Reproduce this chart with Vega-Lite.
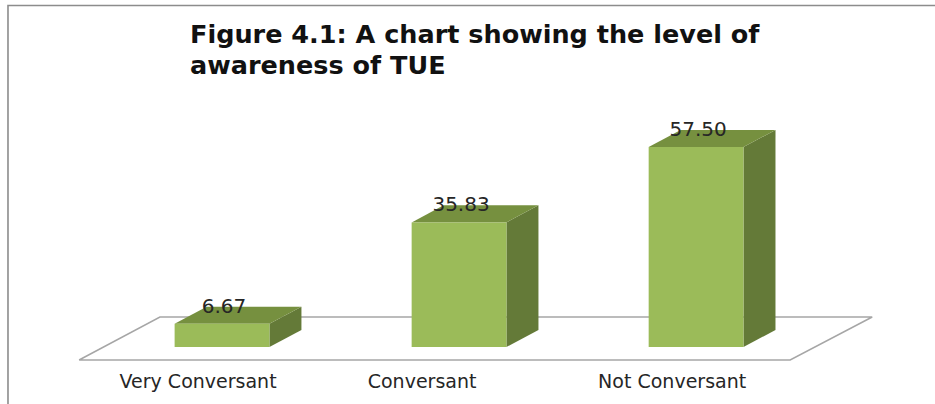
{
  "$schema": "https://vega.github.io/schema/vega-lite/v6.json",
  "autosize": "none",
  "padding": 0,
  "width": 935,
  "height": 404,
  "background": "white",
  "view": {"stroke": null},
  "datasets": {
    "levels": [
      {"level": "Very Conversant", "position": 0, "percent": 6.67},
      {"level": "Conversant", "position": 1, "percent": 35.83},
      {"level": "Not Conversant", "position": 2, "percent": 57.5}
    ],
    "categoryLabels": [
      {"level": "Very Conversant", "position": -0.101, "percent": -10.1},
      {"level": "Conversant", "position": 0.844, "percent": -10.1},
      {"level": "Not Conversant", "position": 1.899, "percent": -10.1}
    ],
    "floor": [
      {"corner": 0, "position": -0.603, "percent": -3.74},
      {"corner": 1, "position": -0.262, "percent": 8.63},
      {"corner": 2, "position": 2.743, "percent": 8.63},
      {"corner": 3, "position": 2.397, "percent": -3.74},
      {"corner": 4, "position": -0.603, "percent": -3.74}
    ],
    "frame": [
      {"corner": 0, "position": -0.903, "percent": -16.39},
      {"corner": 1, "position": -0.903, "percent": 98.2},
      {"corner": 2, "position": 3.008, "percent": 98.2}
    ],
    "heading": [
      {"line": "Figure 4.1: A chart showing the level of", "position": -0.135, "percent": 87.4},
      {"line": "awareness of TUE", "position": -0.135, "percent": 78.4}
    ]
  },
  "layer": [
    {
      "data": {"name": "frame"},
      "mark": {"type": "line", "color": "#8c8c8c", "strokeWidth": 1.6},
      "encoding": {
        "x": {"field": "position", "type": "quantitative", "scale": {"domain": [-0.9367, 3.008], "nice": false, "zero": false}, "axis": null},
        "y": {"field": "percent", "type": "quantitative", "scale": {"domain": [-16.39, 99.77], "nice": false, "zero": false}, "axis": null},
        "order": {"field": "corner"}
      }
    },
    {
      "data": {"name": "floor"},
      "mark": {"type": "line", "color": "#a6a6a6", "strokeWidth": 1.5},
      "encoding": {
        "x": {"field": "position", "type": "quantitative"},
        "y": {"field": "percent", "type": "quantitative"},
        "order": {"field": "corner"}
      }
    },
    {
      "data": {"name": "levels"},
      "transform": [
        {"calculate": "[0, 1]", "as": "depth"},
        {"flatten": ["depth"]},
        {"calculate": "datum.position + 0.2 + datum.depth * 0.135", "as": "sideX"},
        {"calculate": "datum.percent + datum.depth * 4.89", "as": "sideTop"},
        {"calculate": "datum.depth * 4.89", "as": "sideBase"}
      ],
      "mark": {"type": "area", "color": "#647a38", "opacity": 1},
      "encoding": {
        "x": {"field": "sideX", "type": "quantitative"},
        "y": {"field": "sideTop", "type": "quantitative"},
        "y2": {"field": "sideBase"},
        "detail": {"field": "level"}
      }
    },
    {
      "data": {"name": "levels"},
      "transform": [
        {"calculate": "[0, 1]", "as": "depth"},
        {"flatten": ["depth"]},
        {"calculate": "datum.position - 0.2 + datum.depth * 0.135", "as": "topLeft"},
        {"calculate": "datum.position + 0.2 + datum.depth * 0.135", "as": "topRight"},
        {"calculate": "datum.percent + datum.depth * 4.89", "as": "topY"}
      ],
      "mark": {"type": "area", "orient": "horizontal", "color": "#76903f", "opacity": 1},
      "encoding": {
        "y": {"field": "topY", "type": "quantitative"},
        "x": {"field": "topLeft", "type": "quantitative"},
        "x2": {"field": "topRight"},
        "detail": {"field": "level"}
      }
    },
    {
      "data": {"name": "levels"},
      "transform": [
        {"calculate": "datum.position - 0.2", "as": "frontLeft"},
        {"calculate": "datum.position + 0.2", "as": "frontRight"}
      ],
      "mark": {"type": "rect", "color": "#9bbb59"},
      "encoding": {
        "x": {"field": "frontLeft", "type": "quantitative"},
        "x2": {"field": "frontRight"},
        "y": {"field": "percent", "type": "quantitative"},
        "y2": {"datum": 0}
      }
    },
    {
      "data": {"name": "levels"},
      "mark": {"type": "text", "font": "DejaVu Sans", "fontSize": 20, "color": "#262626", "dy": -17, "dx": 2},
      "encoding": {
        "x": {"field": "position", "type": "quantitative"},
        "y": {"field": "percent", "type": "quantitative"},
        "text": {"field": "percent", "type": "quantitative", "format": ".2f"}
      }
    },
    {
      "data": {"name": "categoryLabels"},
      "mark": {"type": "text", "font": "DejaVu Sans", "fontSize": 19, "color": "#262626"},
      "encoding": {
        "x": {"field": "position", "type": "quantitative"},
        "y": {"field": "percent", "type": "quantitative"},
        "text": {"field": "level", "type": "nominal"}
      }
    },
    {
      "data": {"name": "heading"},
      "mark": {"type": "text", "font": "DejaVu Sans", "fontSize": 25.5, "fontWeight": "bold", "align": "left", "baseline": "alphabetic", "color": "#111111"},
      "encoding": {
        "x": {"field": "position", "type": "quantitative"},
        "y": {"field": "percent", "type": "quantitative"},
        "text": {"field": "line", "type": "nominal"}
      }
    }
  ]
}
